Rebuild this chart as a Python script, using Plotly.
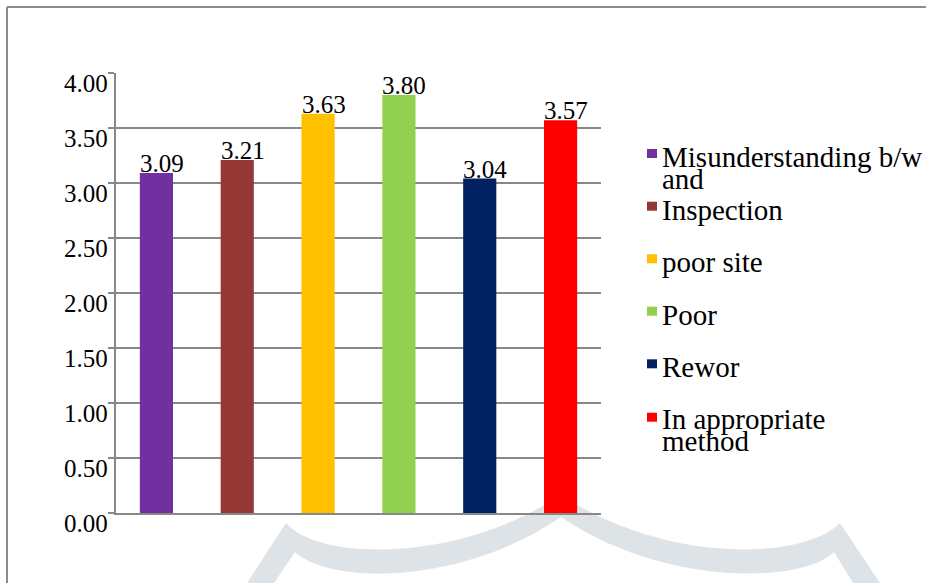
import plotly.graph_objects as go

# ---- data ----
categories = ["Misunderstanding b/w and", "Inspection", "poor site", "Poor", "Rewor", "In appropriate method"]
values = [3.09, 3.21, 3.63, 3.80, 3.04, 3.57]
colors = ["#7030A0", "#953735", "#FFC000", "#92D050", "#002060", "#FF0000"]
legend_lines = [["Misunderstanding b/w", "and"], ["Inspection"], ["poor site"], ["Poor"], ["Rewor"], ["In appropriate", "method"]]
tick_vals = [0, 0.5, 1.0, 1.5, 2.0, 2.5, 3.0, 3.5, 4.0]

W, H = 926, 583
L, R, T, B = 116, 601, 73, 513
FONT = "Liberation Serif"


def px(x):
    return (x - L) / (R - L)


def py(y):
    return (B - y) / (B - T)


xs = list(range(len(categories)))
bar_w = 0.41

fig = go.Figure()
fig.add_trace(go.Bar(
    x=xs, y=values, marker=dict(color=colors, line=dict(width=0)),
    width=bar_w, showlegend=False, hoverinfo="skip",
))

annotations = []
# data labels (left aligned on bar's left edge)
for i, v in enumerate(values):
    annotations.append(dict(
        x=i - bar_w / 2, y=v, xref="x", yref="y", text=f"{v:.2f}",
        xanchor="left", yanchor="bottom", showarrow=False, xshift=-2, yshift=-6,
        font=dict(family=FONT, size=25, color="black"),
    ))

# y tick labels (drawn just below each gridline, like the reference)
for v in tick_vals:
    annotations.append(dict(
        x=px(110), y=v, xref="paper", yref="y", text=f"{v:.2f}",
        xanchor="right", yanchor="top", showarrow=False, yshift=5,
        font=dict(family=FONT, size=25, color="black"),
    ))

# custom legend
sq_tops = [149, 201.7, 254.3, 306.7, 359.3, 412.7]
base1 = [168, 220.7, 272.7, 326, 378, 430]
shapes = []
for i, (lines, col) in enumerate(zip(legend_lines, colors)):
    shapes.append(dict(type="rect", xref="paper", yref="paper",
                       x0=px(647), x1=px(657), y0=py(sq_tops[i]), y1=py(sq_tops[i] + 9),
                       fillcolor=col, line=dict(width=0)))
    for j, t in enumerate(lines):
        annotations.append(dict(
            x=px(662), y=py(base1[i] + 22 * j), xref="paper", yref="paper", text=t,
            xanchor="left", yanchor="bottom", showarrow=False, xshift=-2, yshift=-7,
            font=dict(family=FONT, size=29, color="black"),
        ))

# outer border (top and left)
shapes.append(dict(type="line", xref="paper", yref="paper", x0=px(7), x1=px(926), y0=py(7), y1=py(7),
                   line=dict(color="#8c8c8c", width=2)))
shapes.append(dict(type="line", xref="paper", yref="paper", x0=px(7), x1=px(7), y0=py(7), y1=py(583),
                   line=dict(color="#8c8c8c", width=2)))

# faint background watermark
P = lambda x, y: (f"{px(x):.5f}", f"{py(y):.5f}")
coords = [(247, 583), (286, 523), (320, 562), (460, 562), (561, 495), (662, 562), (800, 562), (840, 523),
          (880, 583), (853, 583), (834, 552), (800, 585), (660, 585), (561, 517), (462, 585), (330, 585),
          (295, 552), (274, 583)]
c = [P(*q) for q in coords]
path = (f"M {c[0][0]},{c[0][1]} L {c[1][0]},{c[1][1]} C {c[2][0]},{c[2][1]} {c[3][0]},{c[3][1]} {c[4][0]},{c[4][1]} "
        f"C {c[5][0]},{c[5][1]} {c[6][0]},{c[6][1]} {c[7][0]},{c[7][1]} L {c[8][0]},{c[8][1]} L {c[9][0]},{c[9][1]} "
        f"L {c[10][0]},{c[10][1]} C {c[11][0]},{c[11][1]} {c[12][0]},{c[12][1]} {c[13][0]},{c[13][1]} "
        f"C {c[14][0]},{c[14][1]} {c[15][0]},{c[15][1]} {c[16][0]},{c[16][1]} L {c[17][0]},{c[17][1]} Z")
shapes.append(dict(type="path", xref="paper", yref="paper", path=path, fillcolor="#dde3e7",
                   line=dict(width=0), layer="below"))

fig.update_layout(
    width=W, height=H,
    margin=dict(l=L, r=W - R, t=T, b=H - B, pad=0),
    paper_bgcolor="white", plot_bgcolor="rgba(0,0,0,0)",
    font=dict(family=FONT),
    annotations=annotations, shapes=shapes,
    xaxis=dict(range=[-0.5, 5.5], showticklabels=False, showgrid=False, zeroline=False,
               showline=True, linecolor="#888888", linewidth=2, ticks=""),
    yaxis=dict(range=[0, 4], tickvals=tick_vals, showticklabels=False,
               showgrid=True, gridcolor="#888888", gridwidth=2, zeroline=False,
               showline=True, linecolor="#888888", linewidth=2,
               ticks="outside", ticklen=6, tickwidth=2, tickcolor="#888888"),
    showlegend=False,
)

fig.write_html("out.html", config={"displayModeBar": False},
               post_script="document.body.style.margin='0';document.body.style.overflow='hidden';")
